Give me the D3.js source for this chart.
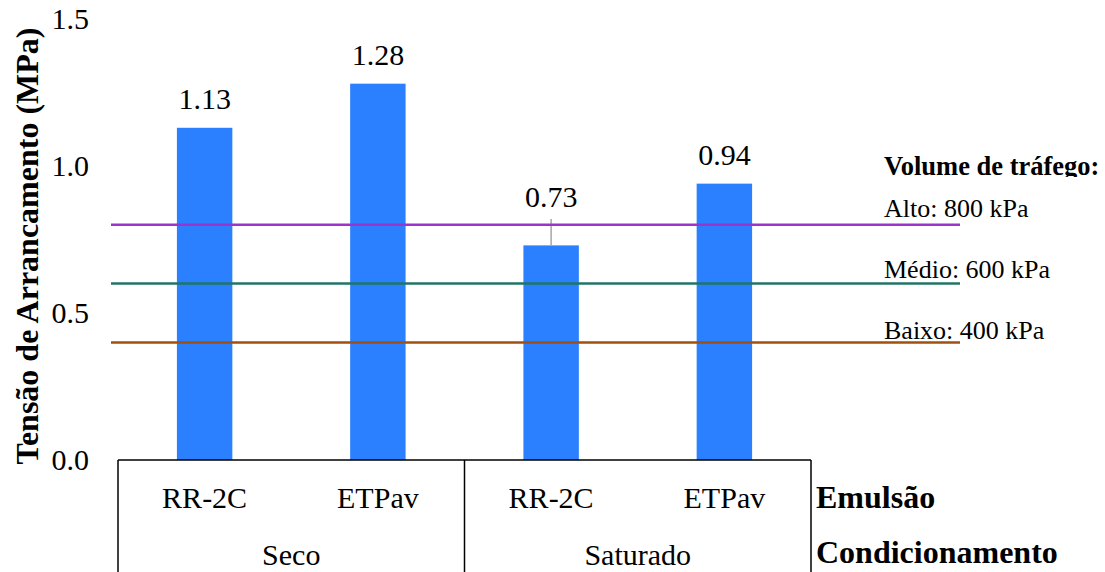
<!DOCTYPE html>
<html>
<head>
<meta charset="utf-8">
<script src="https://cdn.jsdelivr.net/npm/d3@7"></script>
<style>
  html, body { margin: 0; padding: 0; background: #fff; }
  svg text { font-family: "Liberation Serif", "Times New Roman", Times, serif; }
</style>
</head>
<body>
<svg id="chart" width="1105" height="572"></svg>
<script>
// Pull-off strength per emulsion and conditioning
const emulsions = ["RR-2C", "ETPav", "RR-2C", "ETPav"];
const conditions = ["Seco", "Saturado"];
const values = [1.13, 1.28, 0.73, 0.94];
const errorsUp = [0, 0, 0.09, 0];
const yTicks = [0, 0.5, 1.0, 1.5];

// Traffic-volume reference levels (MPa)
const levelNames = ["Alto: 800 kPa", "Médio: 600 kPa", "Baixo: 400 kPa"];
const levelValues = [0.8, 0.6, 0.4];
const levelColors = ["#9b33cc", "#1f7566", "#a0500c"];

const FONT = "'Liberation Serif', 'Times New Roman', Times, serif";
const svg = d3.select("#chart");

const plotLeft = 118, plotRight = 811, plotBottom = 460, plotTop = 19;

const x = d3.scaleBand()
  .domain(d3.range(values.length))
  .range([plotLeft, plotRight])
  .paddingInner(0.68)
  .paddingOuter(0.34);

const y = d3.scaleLinear().domain([0, 1.5]).range([plotBottom, plotTop]);

// y tick labels (no axis line, no tick marks)
const yAxis = d3.axisLeft(y).tickValues(yTicks).tickFormat(d3.format(".1f")).tickSize(0).tickPadding(0);
const gy = svg.append("g").attr("transform", "translate(89,0)").call(yAxis)
  .attr("font-family", FONT).attr("font-size", 30);
gy.select(".domain").remove();
gy.selectAll("text").attr("fill", "#000");

// y axis title
svg.append("text")
  .attr("transform", "translate(38,246) rotate(-90)")
  .attr("text-anchor", "middle")
  .attr("font-size", 32)
  .attr("font-weight", "bold")
  .attr("fill", "#000")
  .text("Tensão de Arrancamento (MPa)");

// bars
svg.append("g").selectAll("rect")
  .data(values)
  .join("rect")
  .attr("x", (d, i) => x(i))
  .attr("width", x.bandwidth())
  .attr("y", d => y(d))
  .attr("height", d => y(0) - y(d))
  .attr("fill", "#2a80ff");

// upward error bars
svg.append("g").selectAll("line")
  .data(values.map((v, i) => ({ v, e: errorsUp[i], i })).filter(d => d.e > 0))
  .join("line")
  .attr("x1", d => x(d.i) + x.bandwidth() / 2)
  .attr("x2", d => x(d.i) + x.bandwidth() / 2)
  .attr("y1", d => y(d.v))
  .attr("y2", d => y(d.v + d.e))
  .attr("stroke", "#a6a6a6")
  .attr("stroke-width", 1.5);

// value labels
svg.append("g").selectAll("text")
  .data(values)
  .join("text")
  .attr("x", (d, i) => x(i) + x.bandwidth() / 2)
  .attr("y", (d, i) => errorsUp[i] > 0 ? y(d + errorsUp[i]) - 12 : y(d) - 19)
  .attr("text-anchor", "middle")
  .attr("font-size", 30)
  .attr("fill", "#000")
  .text(d => d.toFixed(2));

// reference level lines, drawn over the bars
svg.append("g").selectAll("line")
  .data(levelValues)
  .join("line")
  .attr("x1", 111)
  .attr("x2", 960)
  .attr("y1", d => y(d))
  .attr("y2", d => y(d))
  .attr("stroke", (d, i) => levelColors[i])
  .attr("stroke-width", 2.5);

// legend block
svg.append("defs").append("clipPath").attr("id", "legend-title-clip")
  .append("rect").attr("x", 860).attr("y", 140).attr("width", 260).attr("height", 37);
svg.append("text")
  .attr("x", 884)
  .attr("y", 175)
  .attr("clip-path", "url(#legend-title-clip)")
  .attr("font-size", 26.5)
  .attr("font-weight", "bold")
  .attr("fill", "#000")
  .text("Volume de tráfego:");
svg.append("g").selectAll("text")
  .data(levelNames)
  .join("text")
  .attr("x", 884)
  .attr("y", (d, i) => 217 + i * 61)
  .attr("font-size", 26)
  .attr("fill", "#000")
  .text(d => d);

// multi-level category axis
const axis = svg.append("g").attr("stroke", "#000").attr("stroke-width", 1.5).attr("fill", "none");
axis.append("line").attr("x1", plotLeft).attr("x2", plotRight).attr("y1", plotBottom).attr("y2", plotBottom);
const groupEdges = [plotLeft, (plotLeft + plotRight) / 2, plotRight];
axis.selectAll("line.div")
  .data(groupEdges)
  .join("line")
  .attr("class", "div")
  .attr("x1", d => d).attr("x2", d => d)
  .attr("y1", plotBottom).attr("y2", 572);

svg.append("g").selectAll("text")
  .data(emulsions)
  .join("text")
  .attr("x", (d, i) => x(i) + x.bandwidth() / 2)
  .attr("y", 508)
  .attr("text-anchor", "middle")
  .attr("font-size", 30)
  .attr("fill", "#000")
  .text(d => d);

svg.append("g").selectAll("text")
  .data(conditions)
  .join("text")
  .attr("x", (d, i) => (groupEdges[i] + groupEdges[i + 1]) / 2)
  .attr("y", 565)
  .attr("text-anchor", "middle")
  .attr("font-size", 30)
  .attr("fill", "#000")
  .text(d => d);

svg.append("text")
  .attr("x", 816).attr("y", 508)
  .attr("font-size", 32).attr("font-weight", "bold").attr("fill", "#000")
  .text("Emulsão");
svg.append("text")
  .attr("x", 816).attr("y", 563)
  .attr("font-size", 32).attr("font-weight", "bold").attr("fill", "#000")
  .text("Condicionamento");

// every label uses the serif face
svg.selectAll("text").attr("font-family", FONT);
</script>
</body>
</html>
